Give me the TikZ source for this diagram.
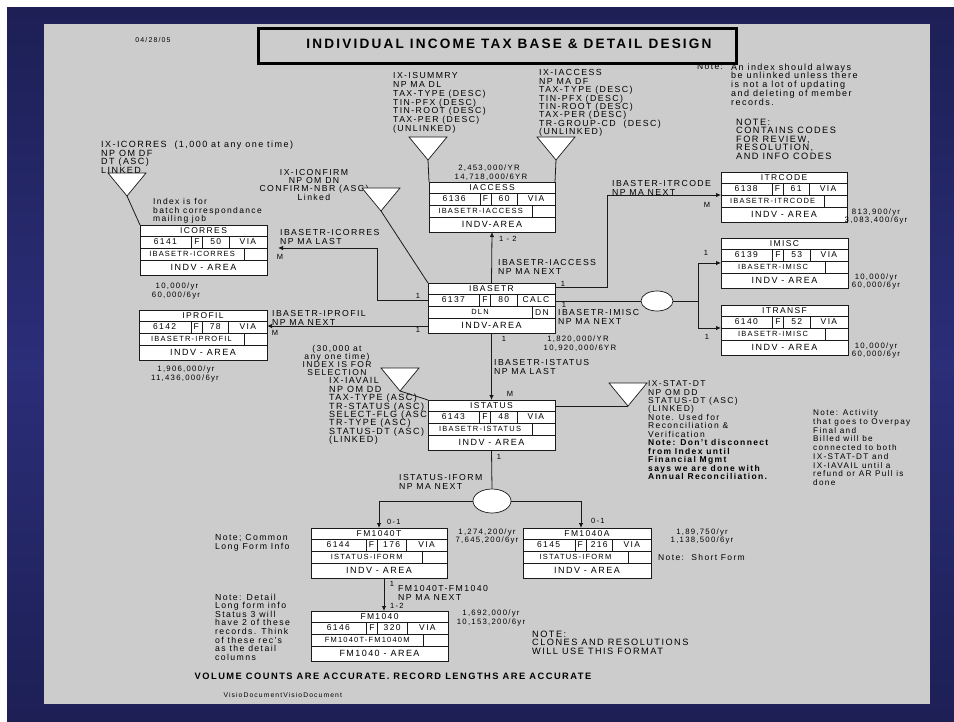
\documentclass[tikz,border=0pt]{standalone}
\usepackage{fontspec}
\setmainfont{Liberation Sans}[LetterSpace=16]
\usepackage{tikz}
\usetikzlibrary{positioning}
\usetikzlibrary{shapes.geometric}
\usetikzlibrary{arrows.meta}
\usetikzlibrary{calc}

\definecolor{slidegrey}{HTML}{CCCCCC}
\definecolor{navydark}{HTML}{1D1F55}
\definecolor{navylight}{HTML}{2B2E78}
\definecolor{inkline}{HTML}{1A1A1A}

% record box: name/title, left, top, width, number, length, access, set, area
\newcommand{\recbox}[9]{%
  \node[recframe, minimum width=#4, anchor=north west] (#1) at (#2,#3) {};
  \draw[recline] (#2,#3+11) -- ++(#4,0) (#2,#3+23) -- ++(#4,0) (#2,#3+35) -- ++(#4,0)
    (#2+0.405*#4,#3+11) -- ++(0,12) (#2+0.405*#4+11,#3+11) -- ++(0,12)
    (#2+0.70*#4,#3+11) -- ++(0,12) (#2+0.82*#4,#3+23) -- ++(0,12);
  \node[celltxt] (#1-title) at (#2+0.5*#4,#3+5.5) {#1};
  \node[celltxt] (#1-num) at (#2+0.2*#4,#3+17) {#5};
  \node[celltxt] (#1-f) at (#2+0.405*#4+5.5,#3+17) {F};
  \node[celltxt] (#1-len) at (#2+0.5525*#4+5.5,#3+17) {#6};
  \node[celltxt] (#1-acc) at (#2+0.85*#4,#3+17) {#7};
  \node[settxt] (#1-set) at (#2+0.41*#4,#3+29) {#8};
  \node[areatxt] (#1-area) at (#2+0.5*#4,#3+42.5) {#9};
}
% index triangle with its apex at (x,y)
\newcommand{\idxtri}[3]{%
  \coordinate (#1) at (#2,#3);
  \draw[idxshape] (#1) -- ++(-19,-23) -- ++(38,0) -- cycle;
}

\begin{document}
\begin{tikzpicture}[x=1pt, y=-1pt,
  recframe/.style={draw=inkline, fill=white, line width=0.7pt, minimum height=50, inner sep=0, outer sep=0},
  recline/.style={draw=inkline, line width=0.6pt},
  celltxt/.style={font=\fontsize{8.5}{9}\selectfont, inner sep=0},
  settxt/.style={font=\fontsize{7.5}{8}\selectfont, inner sep=0},
  areatxt/.style={font=\fontsize{9}{9}\selectfont, inner sep=0},
  idxshape/.style={draw=inkline, fill=white, line width=0.7pt},
  rel/.style={draw=inkline, line width=0.8pt},
  fk/.style={rel, -{Latex[length=5pt,width=4.5pt]}},
  fork/.style={ellipse, draw=inkline, fill=white, line width=0.7pt, inner sep=0},
  note/.style={font=\fontsize{8.5}{8.6}\selectfont, align=left, inner sep=0, anchor=north west},
  lbl/.style={font=\fontsize{8.7}{8.5}\selectfont, align=left, inner sep=0, anchor=north west},
  card/.style={font=\fontsize{7.5}{8}\selectfont, inner sep=0},
  vol/.style={font=\fontsize{7.8}{8}\selectfont, inner sep=0},
]
\useasboundingbox (0,0) rectangle (954,721);
\fill[white] (0,0) rectangle (954,721);
\shade[top color=navydark, bottom color=navydark, middle color=navylight] (7,7) rectangle (954,721);
\fill[slidegrey] (44,24) rectangle (930,704);

% heading
\node[font=\fontsize{7}{8}\selectfont] (date) at (153,40) {04/28/05};
\node[draw=black, line width=2.5pt, minimum width=478, minimum height=35, anchor=north west, inner sep=0] (titlebox) at (257,27) {};
\node[font=\bfseries\fontsize{13.6}{14}\selectfont] (title) at (509,44) {INDIVIDUAL INCOME TAX BASE \& DETAIL DESIGN};

% notes
\node[note] (notelbl) at (697,63.5) {Note:};
\node[note, font=\fontsize{9}{8.75}\selectfont] (notetxt) at (731,63.5) {An index should always\\ be unlinked unless there\\ is not a lot of updating\\ and deleting of member\\ records.};
\node[note, font=\fontsize{9.2}{8.5}\selectfont] (codenote) at (736,118.5) {NOTE:\\ CONTAINS CODES\\ FOR REVIEW,\\ RESOLUTION,\\ AND INFO CODES};
\node[note, font=\fontsize{8.7}{8.8}\selectfont] (isummry-txt) at (393,72.5) {IX-ISUMMRY\\ NP MA DL\\ TAX-TYPE (DESC)\\ TIN-PFX (DESC)\\ TIN-ROOT (DESC)\\ TAX-PER (DESC)\\ (UNLINKED)};
\node[note, font=\fontsize{8.8}{8.4}\selectfont] (iaccess-txt) at (539,69.5) {IX-IACCESS\\ NP MA DF\\ TAX-TYPE (DESC)\\ TIN-PFX (DESC)\\ TIN-ROOT (DESC)\\ TAX-PER (DESC)\\ TR-GROUP-CD\ \ (DESC)\\ (UNLINKED)};
\node[note, font=\fontsize{9}{8}\selectfont] (icorres-txt) at (101,140.5) {IX-ICORRES\ \ (1,000 at any one time)\\ NP OM DF\\ DT (ASC)\\ LINKED};
\node[note, font=\fontsize{8.5}{8.5}\selectfont] (batch-txt) at (153,198.5) {Index is for\\ batch correspondance\\ mailing job};
\node[note, font=\fontsize{8.7}{8}\selectfont, align=center, anchor=north] (iconfirm-txt) at (314,169.5) {IX-ICONFIRM\\ NP OM DN\\ CONFIRM-NBR (ASC)\\ Linked};
\node[note, font=\fontsize{8.5}{8}\selectfont, align=center, anchor=north] (iavail-head) at (337,345.5) {(30,000 at\\ any one time)\\ INDEX IS FOR\\ SELECTION};
\node[note, font=\fontsize{9}{8.4}\selectfont] (iavail-txt) at (329,377.5) {IX-IAVAIL\\ NP OM DD\\ TAX-TYPE (ASC)\\ TR-STATUS (ASC)\\ SELECT-FLG (ASC)\\ TR-TYPE (ASC)\\ STATUS-DT (ASC)\\ (LINKED)};
\node[note, font=\fontsize{8.5}{8.45}\selectfont] (statdt-txt) at (648,380.5) {IX-STAT-DT\\ NP OM DD\\ STATUS-DT (ASC)\\ (LINKED)\\ Note. Used for\\ Reconciliation \&\\ Verification\\ \textbf{Note: Don't disconnect}\\ \textbf{from Index until}\\ \textbf{Financial Mgmt}\\ \textbf{says we are done with}\\ \textbf{Annual Reconciliation.}};
\node[note, font=\fontsize{8.2}{8.75}\selectfont] (activity-txt) at (813,409.5) {Note: Activity\\ that goes to Overpay\\ Final and\\ Billed will be\\ connected to both\\ IX-STAT-DT and\\ IX-IAVAIL until a\\ refund or AR Pull is\\ done};
\node[note, font=\fontsize{8.7}{9}\selectfont] (common-txt) at (215,534.5) {Note; Common\\ Long Form Info};
\node[note, font=\fontsize{8.7}{8.6}\selectfont] (detail-txt) at (215,593.5) {Note: Detail\\ Long form info\\ Status 3 will\\ have 2 of these\\ records. Think\\ of these rec's\\ as the detail\\ columns};
\node[note, font=\fontsize{8.5}{9}\selectfont, anchor=west] (short-txt) at (658,557) {Note:\ \ Short Form};
\node[note, font=\fontsize{9.2}{8.5}\selectfont] (clones-txt) at (532,630.5) {NOTE:\\ CLONES AND RESOLUTIONS\\ WILL USE THIS FORMAT};
\node[font=\bfseries\fontsize{9.3}{10}\selectfont] (accurate) at (393,676) {VOLUME COUNTS ARE ACCURATE. RECORD LENGTHS ARE ACCURATE};
\node[font=\fontsize{6.8}{7}\selectfont, anchor=west] (visio) at (220,695) {VisioDocumentVisioDocument};

% records
\recbox{IACCESS}{429}{182}{126}{6136}{60}{VIA}{IBASETR-IACCESS}{INDV-AREA}
\recbox{IBASETR}{428}{283}{127}{6137}{80}{CALC}{DLN}{INDV-AREA}
\node[celltxt] (IBASETR-dn) at (542,313) {DN};
\recbox{ITRCODE}{721}{172}{126}{6138}{61}{VIA}{IBASETR-ITRCODE}{INDV - AREA}
\recbox{IMISC}{721}{238}{127}{6139}{53}{VIA}{IBASETR-IMISC}{INDV - AREA}
\recbox{ITRANSF}{721}{305}{127}{6140}{52}{VIA}{IBASETR-IMISC}{INDV - AREA}
\recbox{ICORRES}{140}{225}{127}{6141}{50}{VIA}{IBASETR-ICORRES}{INDV - AREA}
\recbox{IPROFIL}{139}{310}{128}{6142}{78}{VIA}{IBASETR-IPROFIL}{INDV - AREA}
\recbox{ISTATUS}{428}{400}{127}{6143}{48}{VIA}{IBASETR-ISTATUS}{INDV - AREA}
\recbox{FM1040T}{311}{528}{136}{6144}{176}{VIA}{ISTATUS-IFORM}{INDV - AREA}
\recbox{FM1040A}{523}{528}{128}{6145}{216}{VIA}{ISTATUS-IFORM}{INDV - AREA}
\recbox{FM1040}{311}{611}{137}{6146}{320}{VIA}{FM1040T-FM1040M}{FM1040 - AREA}

% volumes
\node[vol] (iaccess-v1) at (489,168) {2,453,000/YR};
\node[vol] (iaccess-v2) at (491,177) {14,718,000/6YR};
\node[vol] (itrcode-v1) at (876,212) {813,900/yr};
\node[vol] (itrcode-v2) at (876,220) {3,083,400/6yr};
\node[vol] (imisc-v1) at (876,277) {10,000/yr};
\node[vol] (imisc-v2) at (876,285) {60,000/6yr};
\node[vol] (itransf-v1) at (876,346) {10,000/yr};
\node[vol] (itransf-v2) at (876,354) {60,000/6yr};
\node[vol] (ibasetr-v1) at (578,339) {1,820,000/YR};
\node[vol] (ibasetr-v2) at (580,348) {10,920,000/6YR};
\node[vol] (icorres-v1) at (177,286) {10,000/yr};
\node[vol] (icorres-v2) at (176,295) {60,000/6yr};
\node[vol] (iprofil-v1) at (186,369) {1,906,000/yr};
\node[vol] (iprofil-v2) at (185,378) {11,436,000/6yr};
\node[vol] (fm1040t-v1) at (487,532) {1,274,200/yr};
\node[vol] (fm1040t-v2) at (487,540) {7,645,200/6yr};
\node[vol] (fm1040a-v1) at (702,532) {1,89,750/yr};
\node[vol] (fm1040a-v2) at (702,540) {1,138,500/6yr};
\node[vol] (fm1040-v1) at (491,613) {1,692,000/yr};
\node[vol] (fm1040-v2) at (491,622) {10,153,200/6yr};

% index triangles
\idxtri{icorres-ix}{127}{196}
\idxtri{iconfirm-ix}{381}{211}
\idxtri{isummry-ix}{428}{160}
\idxtri{iaccess-ix}{556}{160}
\idxtri{iavail-ix}{400}{391}
\idxtri{statdt-ix}{628}{406}

\draw[rel] (icorres-ix) -- (ICORRES.north west);
\draw[rel] (iconfirm-ix) -- (IBASETR.north west);
\draw[rel] (isummry-ix) -- (IACCESS.north west);
\draw[rel] (iaccess-ix) -- (IACCESS.north east);
\draw[rel] (iavail-ix) -- (ISTATUS.north west);
\draw[rel] ($(ISTATUS.north east)+(0,6)$) -- (statdt-ix);

% forks
\node[fork, minimum width=32, minimum height=20] (fork1) at (657,301) {};
\node[fork, minimum width=38, minimum height=24] (fork2) at (492,501) {};

% sets
\draw[fk] (IBASETR.north) -- (IACCESS.south);
\draw[fk] ($(IBASETR.north west)+(0,17)$) -| ($(ICORRES.north east)+(110,23)$) -- ($(ICORRES.north east)+(11,23)$);
\draw[fk] ($(IBASETR.north west)+(0,43)$) -- ($(IPROFIL.north east)+(0,16)$);
\draw[fk] ($(IBASETR.north east)+(0,4)$) -| ($(ITRCODE.north west)+(-114,23)$) -- ($(ITRCODE.north west)+(0,23)$);
\draw[rel] ($(IBASETR.north east)+(0,18)$) -- (fork1.west);
\draw[rel] (fork1.east) -- ++(25,0) coordinate (fan1);
\draw[fk] (fan1) |- ($(IMISC.north west)+(0,25)$);
\draw[fk] (fan1) |- ($(ITRANSF.north west)+(0,23)$);
\draw[fk] (IBASETR.south) -- (ISTATUS.north);
\draw[rel] (ISTATUS.south) -- (fork2.north);
\draw[fk] (fork2.west) -| (FM1040T.north);
\draw[fk] (fork2.east) -| ($(FM1040A.north)+(-6,0)$);
\draw[fk] ($(FM1040T.south)+(5,0)$) -- ($(FM1040.north)+(4.5,0)$);

% set labels
\node[lbl] (iaccess-set) at (498,259.5) {IBASETR-IACCESS\\ NP MA NEXT};
\node[lbl] (itrcode-set) at (612,180.5) {IBASTER-ITRCODE\\ NP MA NEXT};
\node[lbl] (imisc-set) at (558,309.5) {IBASETR-IMISC\\ NP MA NEXT};
\node[lbl] (istatus-set) at (494,359.5) {IBASETR-ISTATUS\\ NP MA LAST};
\node[lbl] (iform-set) at (399,474.5) {ISTATUS-IFORM\\ NP MA NEXT};
\node[lbl] (fm1040-set) at (398,585.5) {FM1040T-FM1040\\ NP MA NEXT};
\node[lbl] (icorres-set) at (280,229.5) {IBASETR-ICORRES\\ NP MA LAST};
\node[lbl] (iprofil-set) at (272,310.5) {IBASETR-IPROFIL\\ NP MA NEXT};

% cardinalities
\node[card, anchor=west] (c1) at (499,239) {1 - 2};
\node[card] (c2) at (707,205) {M};
\node[card] (c3) at (563,284) {1};
\node[card] (c4) at (564,305) {1};
\node[card] (c5) at (706,253) {1};
\node[card] (c6) at (707,337) {1};
\node[card] (c7) at (504,339) {1};
\node[card] (c8) at (510,394) {M};
\node[card] (c9) at (499,457) {1};
\node[card, anchor=west] (c10) at (387,522) {0-1};
\node[card, anchor=west] (c11) at (591,521) {0-1};
\node[card] (c12) at (392,584) {1};
\node[card, anchor=west] (c13) at (390,606) {1-2};
\node[card] (c14) at (280,257) {M};
\node[card] (c15) at (418,296) {1};
\node[card] (c16) at (418,330) {1};
\node[card] (c17) at (275,333) {M};
\end{tikzpicture}
\end{document}
